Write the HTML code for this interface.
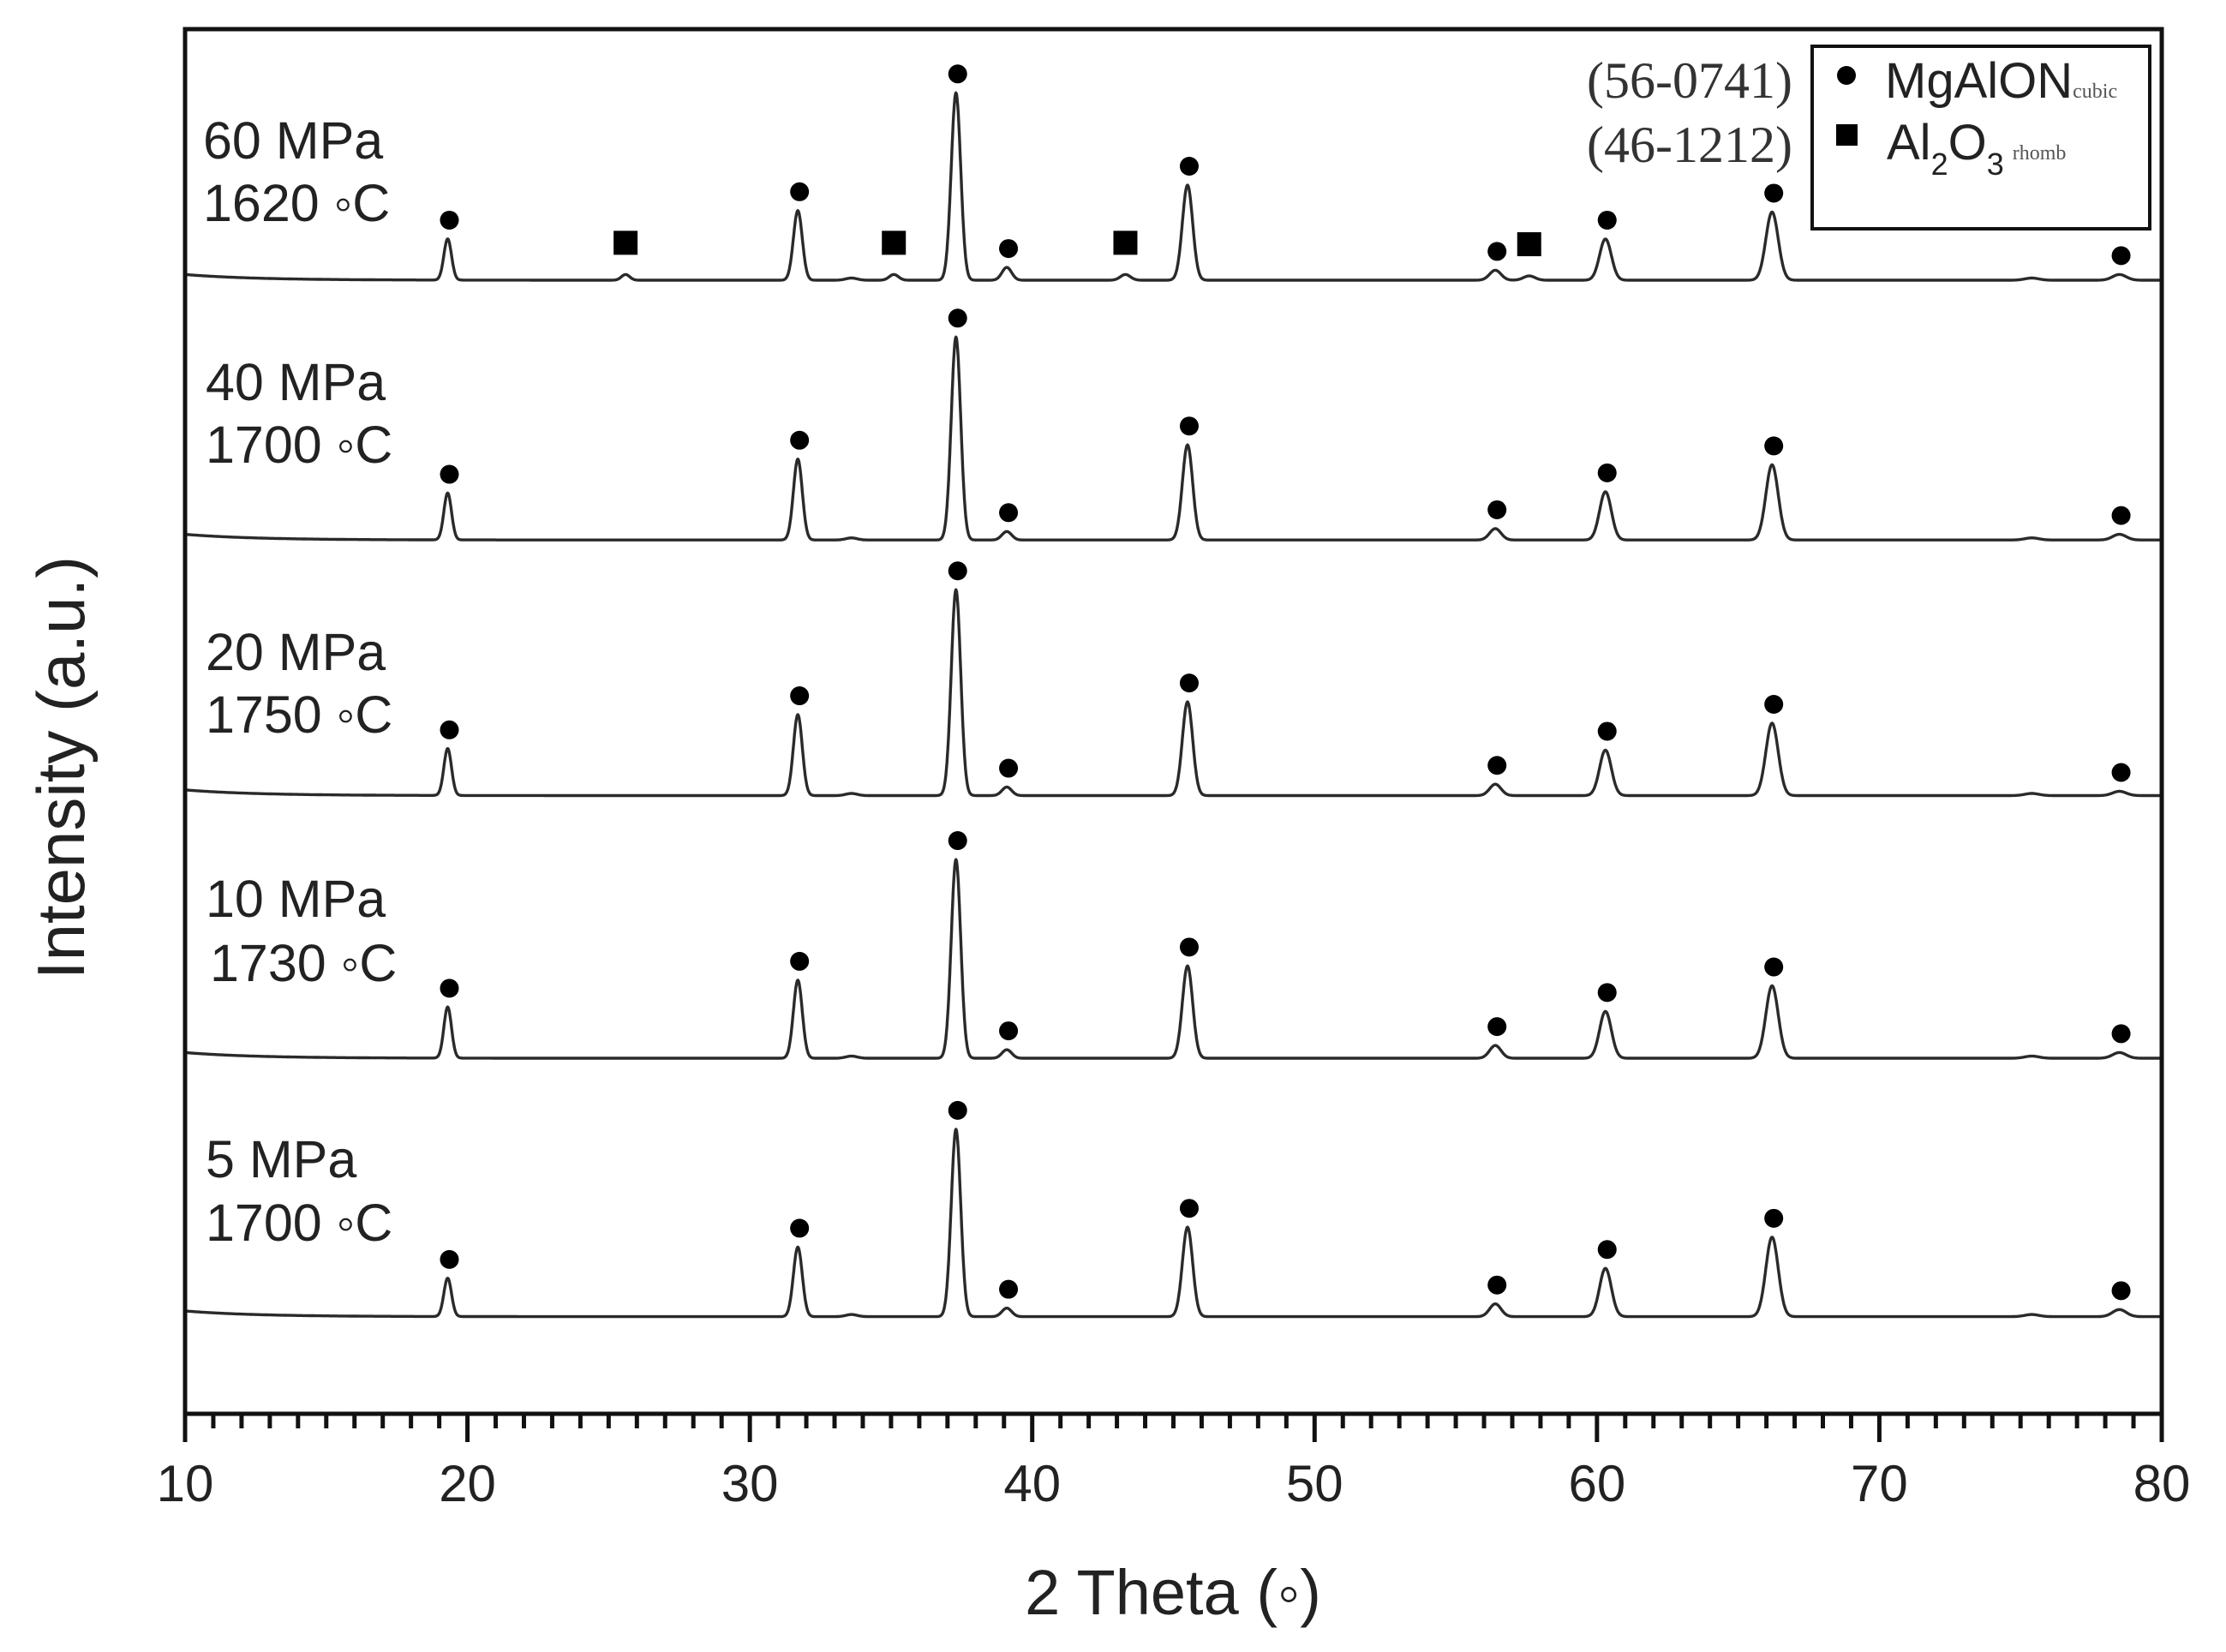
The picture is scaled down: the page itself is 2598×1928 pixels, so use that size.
<!DOCTYPE html>
<html><head><meta charset="utf-8">
<style>
html,body{margin:0;padding:0;background:#fff;}
svg{display:block;font-family:"Liberation Sans",sans-serif;}
</style></head>
<body>
<svg id="chart" width="2598" height="1928" viewBox="0 0 2598 1928" xmlns="http://www.w3.org/2000/svg">
<g id="series"></g>
<g id="markers"></g>
<g id="axes"></g>
<g font-size="61" fill="#222">
<text x="237" y="185">60 MPa</text>
<text x="237" y="258">1620 ◦C</text>
<text x="240" y="467">40 MPa</text>
<text x="240" y="540">1700 ◦C</text>
<text x="240" y="782">20 MPa</text>
<text x="240" y="855">1750 ◦C</text>
<text x="240" y="1070">10 MPa</text>
<text x="245" y="1145">1730 ◦C</text>
<text x="240" y="1374">5 MPa</text>
<text x="240" y="1448">1700 ◦C</text>
</g>
<g>
<rect x="2115" y="54" width="394" height="213" fill="#fff" stroke="#111" stroke-width="4"/>
<circle cx="2155" cy="88" r="11" fill="#000"/>
<text x="2200" y="114" font-size="58" fill="#222">MgAlON<tspan font-family="Liberation Serif,serif" font-size="24" fill="#555">cubic</tspan></text>
<rect x="2143" y="145" width="25" height="25" fill="#000"/>
<text x="2202" y="186" font-size="58" fill="#222">Al<tspan font-size="36" dy="18">2</tspan><tspan dy="-18">O</tspan><tspan font-size="36" dy="18">3</tspan><tspan font-family="Liberation Serif,serif" font-size="24" fill="#555" dx="10" dy="-18">rhomb</tspan></text>
<text x="2092" y="114" text-anchor="end" font-family="Liberation Serif,serif" font-size="60" fill="#333">(56-0741)</text>
<text x="2092" y="189" text-anchor="end" font-family="Liberation Serif,serif" font-size="60" fill="#333">(46-1212)</text>
</g>
<text x="1369" y="1884" text-anchor="middle" font-size="74" fill="#222">2 Theta (◦)</text>
<text transform="translate(98,896) rotate(-90)" text-anchor="middle" font-size="78" fill="#222">Intensity (a.u.)</text>
</svg>
<script>
const xMin = 10, xMax = 80;
const xTicks = [10,20,30,40,50,60,70,80];
const peakPositions = [19.3, 31.7, 37.3, 39.1, 45.5, 56.4, 60.3, 66.2, 78.5];
const aluminaPositions = [25.6, 35.1, 43.3, 57.6];
const sampleNames = ["60MPa","40MPa","20MPa","10MPa","5MPa"];
const offsets = [0, 183, 363, 548, 730];           // stacking offset (a.u.)
const heights60 = [29, 49, 132, 9, 67, 7, 29, 48, 4];
const heights40 = [33, 57, 143, 6, 67, 8, 34, 53, 4];
const heights20 = [33, 57, 145, 6, 66, 8, 32, 51, 3];
const heights10 = [36, 55, 140, 6, 65, 9, 33, 51, 4];
const heights5  = [27, 49, 132, 6, 63, 9, 34, 56, 5];
const aluminaHeights60 = [4, 4, 4, 3];
const allHeights = [heights60, heights40, heights20, heights10, heights5];

const L = 216, R = 2523, T = 34, B = 1650;
const yBase0 = 327, yScale = 1.657;
const sx = v => L + (v - xMin) / (xMax - xMin) * (R - L);
const sy = (v, k) => yBase0 + offsets[k] * yScale - v * yScale;
const NS = "http://www.w3.org/2000/svg";
function mk(tag, attrs, parent){const e=document.createElementNS(NS,tag);for(const a in attrs)e.setAttribute(a,attrs[a]);parent.appendChild(e);return e;}

const gS = document.getElementById('series');
const gM = document.getElementById('markers');
const gA = document.getElementById('axes');
const sig = x => 0.10 + 0.0018 * x;

allHeights.forEach((hs, k) => {
  let d = '';
  for (let x = xMin; x <= xMax + 1e-9; x += 0.02) {
    let v = 4 * Math.exp(-(x - 10) / 2.5);
    peakPositions.forEach((p, i) => { const s = sig(p); v += hs[i] * Math.exp(-0.5 * ((x - p) / s) ** 2); });
    if (k === 0) aluminaPositions.forEach((p, i) => { const s = sig(p); v += aluminaHeights60[i] * Math.exp(-0.5 * ((x - p) / s) ** 2); });
    v += 1.5 * Math.exp(-0.5 * ((x - 33.6) / 0.2) ** 2) + 1.5 * Math.exp(-0.5 * ((x - 75.4) / 0.25) ** 2);
    d += (d ? 'L' : 'M') + sx(x).toFixed(1) + ',' + sy(v, k).toFixed(1);
  }
  const p = mk('path', {d: d, fill: 'none', stroke: '#2a2a2a', 'stroke-width': 3.4, 'stroke-linejoin': 'round'}, gS);
  
  
  peakPositions.forEach((pp, i) => {
    const c = mk('circle', {cx: sx(pp) + 2, cy: sy(hs[i], k) - 22, r: 11, fill: '#000'}, gM);
    
    
  });
  if (k === 0) aluminaPositions.forEach((pp, i) => {
    const r = mk('rect', {x: sx(pp) - 14, y: sy(aluminaHeights60[i], k) - 51, width: 28, height: 28, fill: '#000'}, gM);
    
    
  });
});

const frame = mk('rect', {x: L, y: T, width: R - L, height: B - T, fill: 'none', stroke: '#111', 'stroke-width': 5}, gA);


for (let v = xMin; v <= xMax; v++) {
  const major = (v % 10 === 0);
  const t = mk('line', {x1: sx(v), x2: sx(v), y1: B, y2: B + (major ? 33 : 17), stroke: '#111', 'stroke-width': 5}, gA);
  
  
}
xTicks.forEach(v => {
  const t = mk('text', {x: sx(v), y: 1752, 'text-anchor': 'middle', 'font-size': 60, fill: '#222'}, gA);
  t.textContent = v;
  
  
});
</script>
</body></html>
